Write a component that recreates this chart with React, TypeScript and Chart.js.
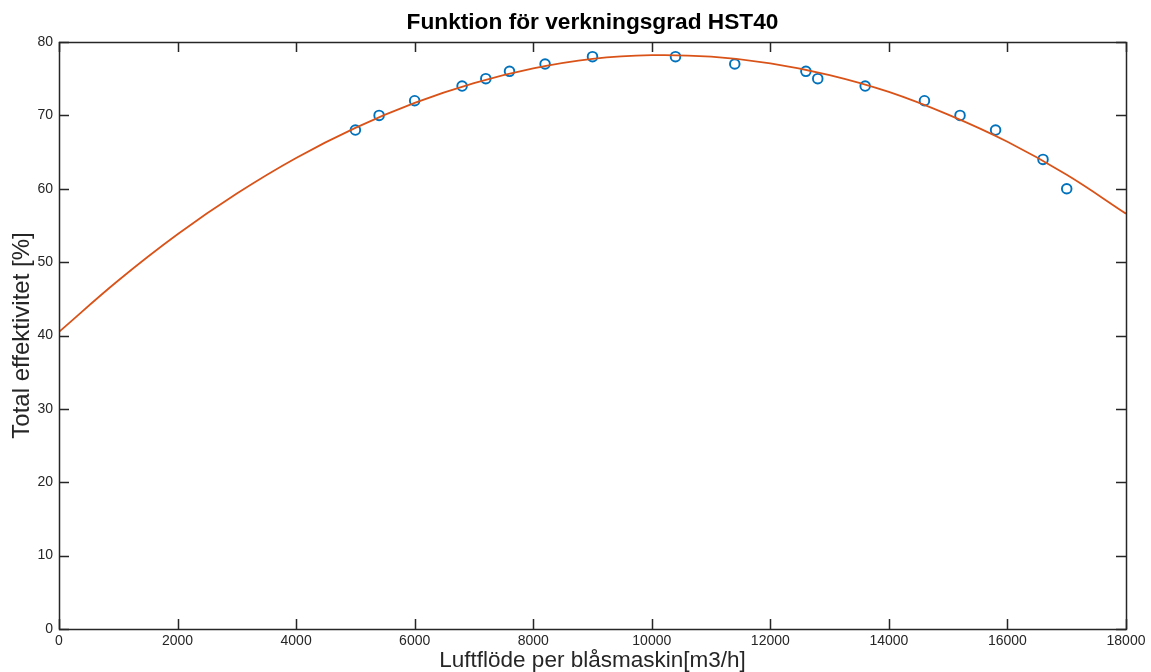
import React, { useEffect, useRef } from "react";
import { Chart, registerables } from "chart.js";

Chart.register(...registerables);

const TITLE = "Funktion för verkningsgrad HST40";
const X_TITLE = "Luftflöde per blåsmaskin[m3/h]";
const Y_TITLE = "Total effektivitet [%]";

// Measured points
const flowX = [5000, 5400, 6000, 6800, 7200, 7600, 8200, 9000, 10400, 11400, 12600, 12800, 13600, 14600, 15200, 15800, 16600, 17000];
const effY = [68, 70, 72, 74, 75, 76, 77, 78, 78, 77, 76, 75, 74, 72, 70, 68, 64, 60];

// Fitted curve
const fitX = [0, 1000, 2000, 3000, 4000, 5000, 6000, 7000, 8000, 9000, 10000, 11000, 12000, 13000, 14000, 15000, 16000, 17000, 18000];
const fitY = [40.5, 47.5, 53.8, 59.35, 64.2, 68.3, 71.7, 74.4, 76.4, 77.7, 78.2, 78.0, 77.1, 75.5, 73.2, 70.1, 66.4, 61.9, 56.6];

const xTicks = [0, 2000, 4000, 6000, 8000, 10000, 12000, 14000, 16000, 18000];
const yTicks = [0, 10, 20, 30, 40, 50, 60, 70, 80];

const AXIS_COLOR = "#262626";
const FONT = "'Liberation Sans', Arial, Helvetica, sans-serif";

const boxPlugin = {
  id: "matlabBox",
  afterDraw(chart: any) {
    const { ctx, chartArea: a, scales } = chart;
    const xs = scales.x;
    const ys = scales.y;
    ctx.save();
    // title centred over the axes box
    ctx.fillStyle = "#000000";
    ctx.font = "bold 22.7px " + FONT;
    ctx.textAlign = "center";
    ctx.textBaseline = "middle";
    ctx.fillText(TITLE, (a.left + a.right) / 2, 23);

    ctx.strokeStyle = AXIS_COLOR;
    ctx.lineWidth = 1.5;
    ctx.beginPath();
    ctx.rect(Math.round(a.left) + 0.5, Math.round(a.top) + 0.5, Math.round(a.right - a.left), Math.round(a.bottom - a.top));
    ctx.stroke();
    const L = 10;
    ctx.beginPath();
    xTicks.forEach((v) => {
      const px = Math.round(xs.getPixelForValue(v)) + 0.5;
      ctx.moveTo(px, a.bottom);
      ctx.lineTo(px, a.bottom - L);
      ctx.moveTo(px, a.top);
      ctx.lineTo(px, a.top + L);
    });
    yTicks.forEach((v) => {
      const py = Math.round(ys.getPixelForValue(v)) + 0.5;
      ctx.moveTo(a.left, py);
      ctx.lineTo(a.left + L, py);
      ctx.moveTo(a.right, py);
      ctx.lineTo(a.right - L, py);
    });
    ctx.stroke();
    ctx.restore();
  },
};

export default function App() {
  const ref = useRef<HTMLCanvasElement | null>(null);

  useEffect(() => {
    document.body.style.margin = "0";
    const canvas = ref.current;
    if (!canvas) return;
    const chart = new Chart(canvas, {
      type: "scatter",
      data: {
        datasets: [
          {
            label: "fit",
            data: fitX.map((x, i) => ({ x, y: fitY[i] })),
            showLine: true,
            borderColor: "#D95319",
            borderWidth: 1.8,
            pointRadius: 0,
            tension: 0.4,
            order: 0,
          },
          {
            label: "data",
            data: flowX.map((x, i) => ({ x, y: effY[i] })),
            showLine: false,
            borderColor: "#0072BD",
            backgroundColor: "rgba(0,0,0,0)",
            borderWidth: 1.9,
            pointRadius: 4.8,
            pointStyle: "circle",
            order: 1,
          },
        ],
      },
      options: {
        responsive: false,
        animation: false,
        layout: { padding: { left: 0, right: 25, top: 42, bottom: 0 } },
        plugins: {
          legend: { display: false },
          tooltip: { enabled: false },
          title: { display: false },
        },
        scales: {
          x: {
            type: "linear",
            min: 0,
            max: 18000,
            afterBuildTicks: (s: any) => {
              s.ticks = xTicks.map((v) => ({ value: v }));
            },
            afterFit: (s: any) => {
              s.height = 43;
            },
            grid: { display: false, drawTicks: false },
            border: { display: false },
            ticks: {
              color: AXIS_COLOR,
              font: { family: FONT, size: 14 },
              padding: 4,
              maxRotation: 0,
              autoSkip: false,
              callback: (v: any) => String(v),
            },
            title: {
              display: true,
              text: X_TITLE,
              color: AXIS_COLOR,
              font: { family: FONT, size: 22.5 },
              padding: { top: 0, bottom: -2 },
            },
          },
          y: {
            type: "linear",
            min: 0,
            max: 80,
            afterBuildTicks: (s: any) => {
              s.ticks = yTicks.map((v) => ({ value: v }));
            },
            afterFit: (s: any) => {
              s.width = 59;
            },
            grid: { display: false, drawTicks: false },
            border: { display: false },
            ticks: {
              color: AXIS_COLOR,
              font: { family: FONT, size: 14 },
              padding: 6,
              autoSkip: false,
              callback: (v: any) => String(v),
            },
            title: {
              display: true,
              text: Y_TITLE,
              color: AXIS_COLOR,
              font: { family: FONT, size: 24 },
              padding: { top: 8, bottom: 0 },
            },
          },
        },
      },
      plugins: [boxPlugin],
    });
    return () => chart.destroy();
  }, []);

  return (
    <div style={{ width: 1151, height: 672, background: "#ffffff" }}>
      <canvas ref={ref} width={1151} height={672} style={{ display: "block" }} />
    </div>
  );
}
